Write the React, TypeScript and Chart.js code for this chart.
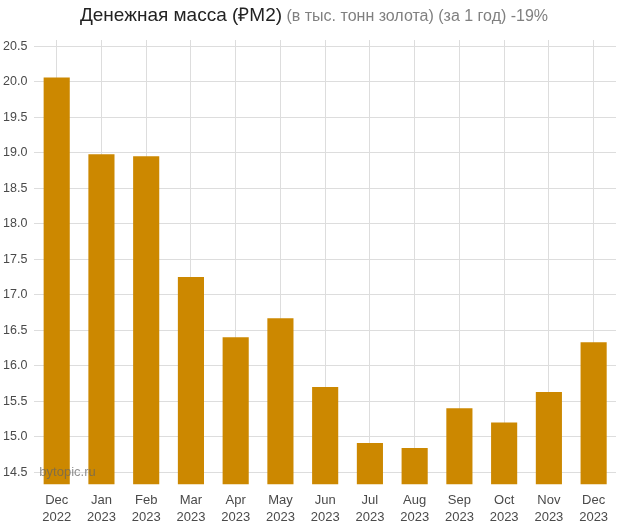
import React, { useEffect, useRef } from "react";
import { Chart, registerables } from "chart.js";

Chart.register(...registerables);

const months: string[][] = [
  ["Dec", "2022"], ["Jan", "2023"], ["Feb", "2023"], ["Mar", "2023"],
  ["Apr", "2023"], ["May", "2023"], ["Jun", "2023"], ["Jul", "2023"],
  ["Aug", "2023"], ["Sep", "2023"], ["Oct", "2023"], ["Nov", "2023"],
  ["Dec", "2023"],
];
const goldValues: number[] = [
  20.06, 18.98, 18.95, 17.25, 16.4, 16.67, 15.7, 14.91, 14.84, 15.4, 15.2, 15.63, 16.33,
];
const titleMain = "Денежная масса (₽M2)";
const titleSub = " (в тыс. тонн золота) (за 1 год) -19%";
const watermark = "bytopic.ru";
const yMin = 14.33;
const yMax = 20.59;

const FONT = "Arial, 'Liberation Sans', sans-serif";

const headerPlugin = {
  id: "headerText",
  afterDraw(chart: any) {
    const ctx = chart.ctx as CanvasRenderingContext2D;
    ctx.save();
    ctx.textBaseline = "alphabetic";
    ctx.textAlign = "left";
    ctx.font = `19px ${FONT}`;
    const w1 = ctx.measureText(titleMain).width;
    ctx.font = `16px ${FONT}`;
    const w2 = ctx.measureText(titleSub).width;
    const x0 = (chart.width - (w1 + w2)) / 2 + 4;
    ctx.font = `19px ${FONT}`;
    ctx.fillStyle = "#222";
    ctx.fillText(titleMain, x0, 21);
    ctx.font = `16px ${FONT}`;
    ctx.fillStyle = "#808080";
    ctx.fillText(titleSub, x0 + w1, 21);

    const area = chart.chartArea;
    ctx.font = `13px ${FONT}`;
    ctx.fillStyle = "rgba(100,100,100,0.7)";
    ctx.fillText(watermark, area.left + 5, area.bottom - 8);
    ctx.restore();
  },
};

export default function App() {
  const ref = useRef<HTMLCanvasElement | null>(null);
  useEffect(() => {
    document.body.style.margin = "0";
    if (!ref.current) return;
    const chart = new Chart(ref.current, {
      type: "bar",
      data: {
        labels: months,
        datasets: [
          {
            data: goldValues,
            backgroundColor: "#CC8800",
            borderWidth: 0,
            categoryPercentage: 0.8,
            barPercentage: 0.73,
          },
        ],
      },
      options: {
        animation: false,
        responsive: false,
        devicePixelRatio: 1,
        layout: { padding: { top: 40, left: -4, right: 4, bottom: -7 } },
        plugins: {
          legend: { display: false },
          tooltip: { enabled: false },
          title: { display: false },
        },
        scales: {
          x: {
            grid: { offset: false, color: "#dddddd", drawTicks: false },
            border: { display: false },
            ticks: {
              color: "#4a4a4a",
              font: { family: FONT, size: 13, lineHeight: 1.3 },
              padding: 8,
              maxRotation: 0,
              autoSkip: false,
            },
          },
          y: {
            min: yMin,
            max: yMax,
            grid: { color: "#dddddd", drawTicks: false },
            border: { display: false },
            ticks: {
              stepSize: 0.5,
              includeBounds: false,
              color: "#4a4a4a",
              font: { family: FONT, size: 12.5 },
              padding: 7,
              callback: (v: any) => Number(v).toFixed(1),
            },
          },
        },
      },
      plugins: [headerPlugin],
    });
    return () => chart.destroy();
  }, []);
  return <canvas ref={ref} width={620} height={527} style={{ display: "block" }} />;
}
